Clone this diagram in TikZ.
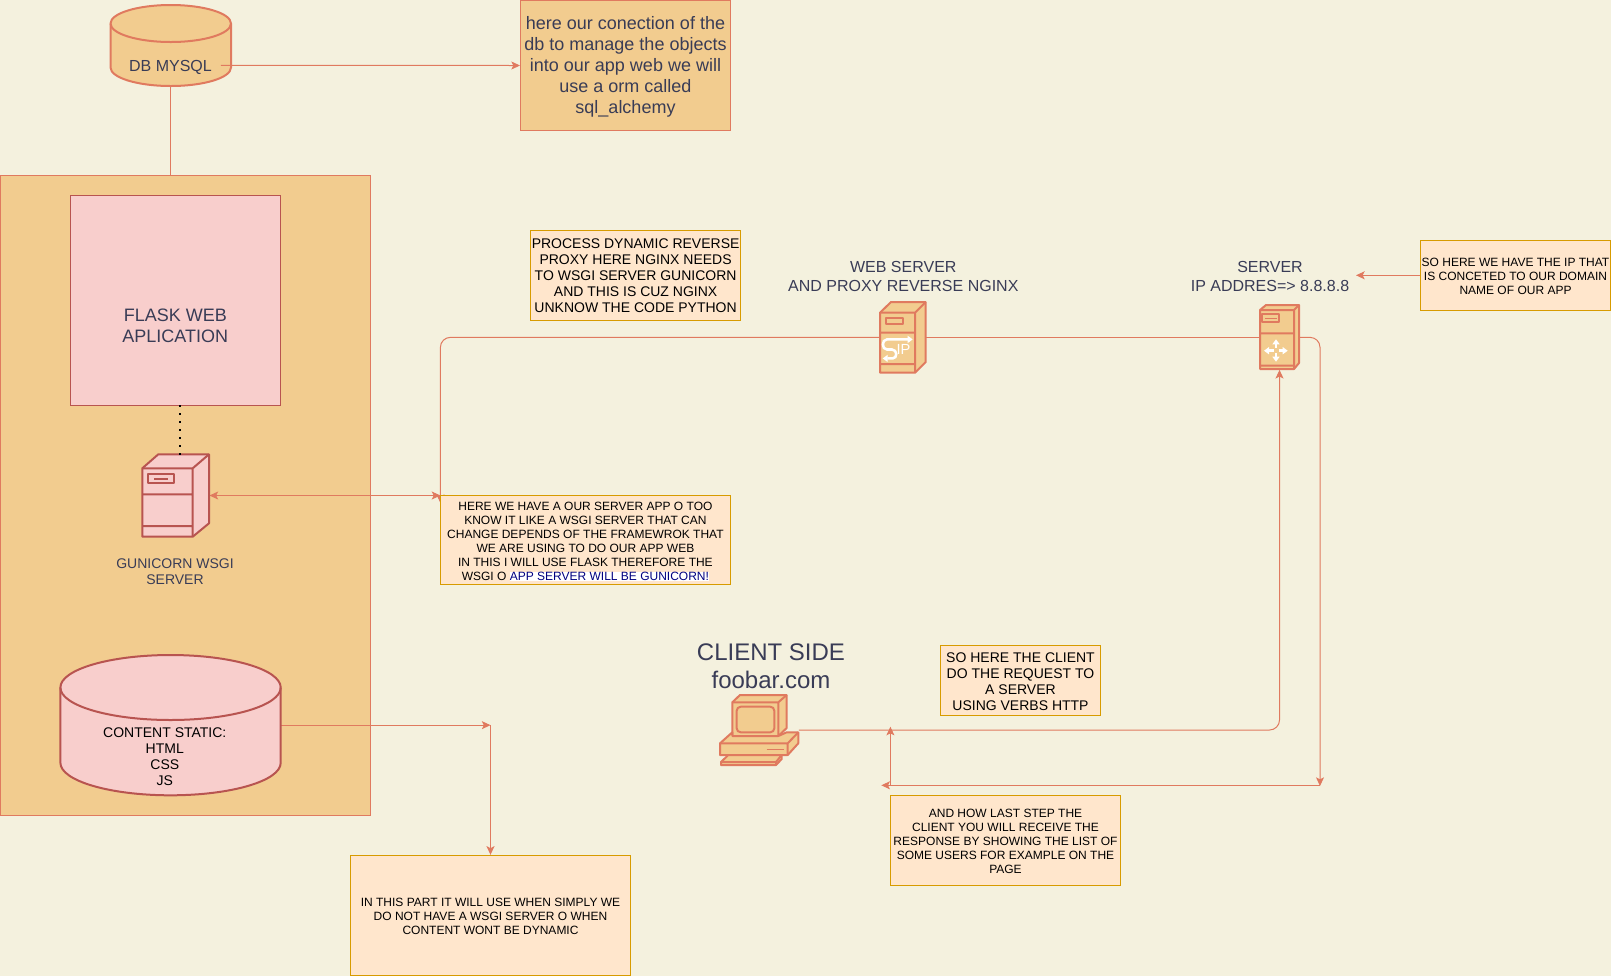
\documentclass[tikz,border=0pt]{standalone}
\usepackage{fontspec}
\setmainfont{Liberation Sans}
\usetikzlibrary{arrows.meta}
\definecolor{paper}{HTML}{F4F1DE}
\definecolor{sand}{HTML}{F2CC8F}
\definecolor{coral}{HTML}{E07A5F}
\definecolor{slate}{HTML}{393C56}
\definecolor{rosefill}{HTML}{F8CECC}
\definecolor{roseline}{HTML}{B85450}
\definecolor{notefill}{HTML}{FFE6CC}
\definecolor{noteline}{HTML}{D79B00}
\definecolor{navytext}{HTML}{000080}
\setlength{\fboxsep}{0pt}
\newcommand{\noteup}[1][1.5pt]{\rule{0pt}{\dimexpr.74em+#1\relax}}
\tikzset{
  >={Stealth[length=6.5pt,width=6pt,inset=1.5pt]},
  boxsize/.style 2 args={minimum width=#1*.75pt, minimum height=#2*.75pt, inner sep=0pt, line width=.75pt},
  textsm/.style={font=\fontsize{9pt}{10.5pt}\selectfont, align=center},
  textmd/.style={font=\fontsize{10.5pt}{12pt}\selectfont, align=center},
  textlg/.style={font=\fontsize{12pt}{14.25pt}\selectfont, align=center},
  textxl/.style={font=\fontsize{13.5pt}{15.75pt}\selectfont, align=center},
  label/.style={text=slate, inner sep=0pt},
  sandbox/.style={draw=coral, fill=sand, text=slate},
  rosebox/.style={draw=roseline, fill=rosefill, text=slate},
  note/.style={draw=noteline, fill=notefill, text=black},
  link/.style={draw=coral, line width=.75pt},
  iconsand/.style={draw=coral, fill=sand, line width=1.5pt, line join=round},
  iconrose/.style={draw=roseline, fill=rosefill, line width=1.5pt, line join=round},
  iconwhite/.style={draw=white, line width=1.9pt, >={Stealth[length=3.75pt,width=5.25pt,inset=0pt]}}
}
\begin{document}
\begin{tikzpicture}[x=.75pt, y=-.75pt]
  \useasboundingbox (0,0) rectangle (1611,976);
  \fill[paper] (0,0) rectangle (1611,976);

  \node[sandbox, boxsize={370}{640}] (backend) at (185.5,495.5) {};
  \node[rosebox, boxsize={210}{210}] (flaskapp) at (175.3,300.3) {};
  \node[label, textxl] (flasktext) at (175.3,326) {FLASK WEB\\APLICATION};

  \node[boxsize={120.5}{81}] (dbmysql) at (170.75,45.5) {};
  \draw[iconsand] (110.5,23.5) -- (110.5,67.5) arc[x radius=60.25, y radius=18.5, start angle=180, end angle=0] -- (231,23.5)
    arc[x radius=60.25, y radius=18.5, start angle=0, end angle=-180] -- cycle;
  \draw[iconsand, fill=none] (110.5,23.5) arc[x radius=60.25, y radius=18.5, start angle=180, end angle=0];
  \node[label, textlg, minimum width=75pt] (dbtext) at (170.5,65.3) {\noteup[2.5pt]DB MYSQL};

  \node[sandbox, boxsize={210}{130}, textxl] (noteorm) at (625.5,65.5) {\noteup here our conection of the\\db to manage the objects\\into our app web we will\\use a orm called\\sql\_alchemy};
  \node[note, boxsize={210}{90}, textmd] (noteproxy) at (635.6,275.3) {PROCESS DYNAMIC REVERSE\\PROXY HERE NGINX NEEDS\\TO WSGI SERVER GUNICORN\\AND THIS IS CUZ NGINX\\UNKNOW THE CODE PYTHON};
  \node[note, boxsize={190}{70}, textsm] (noteip) at (1515.5,275.3) {\noteup SO HERE WE HAVE THE IP THAT\\IS CONCETED TO OUR DOMAIN\\NAME OF OUR APP};
  \node[note, boxsize={160}{70}, textmd] (noterequest) at (1020.5,680.3) {\noteup SO HERE THE CLIENT\\DO THE REQUEST TO\\A SERVER\\USING VERBS HTTP};
  \node[note, boxsize={230}{90}, textsm] (noteresponse) at (1005.5,840.5) {\noteup AND HOW LAST STEP THE\\CLIENT YOU WILL RECEIVE THE\\RESPONSE BY SHOWING THE LIST OF\\SOME USERS FOR EXAMPLE ON THE\\PAGE};
  \node[note, boxsize={280}{120}, textsm] (notestatic) at (490.5,915.3) {\noteup IN THIS PART IT WILL USE WHEN SIMPLY WE\\DO NOT HAVE A WSGI SERVER O WHEN\\CONTENT WONT BE DYNAMIC};

  \node[label, textlg] (websrvtext) at (903.3,276.5) {WEB SERVER\\AND PROXY REVERSE NGINX};
  \node[label, textlg] (servertext) at (1270,276.5) {SERVER\\IP ADDRES=> 8.8.8.8};
  \node[label, textmd] (gunitext) at (175,572) {GUNICORN WSGI\\SERVER};
  \node[label, font=\fontsize{18pt}{21pt}\selectfont, align=center] (clienttext) at (771,666) {CLIENT SIDE\\foobar.com};

  \node[boxsize={45.7}{70.7}] (sipserver) at (902.85,337.35) {};
  \node[boxsize={39}{64}] (server) at (1279.5,337.35) {};
  \node[boxsize={66.7}{82.4}] (gunicorn) at (175.65,495.5) {};
  \node[boxsize={78.3}{70}] (client) at (759.15,730) {};
  \node[boxsize={220.3}{140.3}] (static) at (170.55,725.15) {};
  \coordinate (wsgiarrow) at (440.4,503);
  \coordinate (wsgiend) at (440.4,495.5);
  \coordinate (staticbend) at (490.5,725.15);
  \coordinate (downend) at (1320,786);
  \coordinate (leftstart) at (1320,785.3);
  \coordinate (leftend) at (881.3,785.3);
  \coordinate (upstart) at (890.4,785.3);
  \coordinate (upend) at (890.4,726.7);
  \coordinate (iptip) at (1356,275.3);

  \draw[link, ->] (dbtext.east) -- (noteorm.west);
  \draw[link] (dbmysql.south) -- (dbmysql.south |- backend.north);
  \draw[link, ->, rounded corners=7.5pt] (sipserver.west) -| (wsgiarrow);
  \draw[link] (sipserver.east) -- (server.west);
  \draw[link, ->, rounded corners=7.5pt] (server.east) -| (downend);
  \draw[link, ->] (leftstart) -- (leftend);
  \draw[link, ->] (upstart) -- (upend);
  \draw[link, ->, rounded corners=7.5pt] (client.east) -| (server.south);
  \draw[link, ->] (noteip.west) -- (iptip);
  \draw[link, <->] (gunicorn.east) -- (wsgiend);
  \draw[link, ->] (static.east) -- (staticbend);
  \draw[link, ->] (staticbend) -- (notestatic.north);

  \draw[iconrose] (60.4,687.5) -- (60.4,762.8) arc[x radius=110.15, y radius=32.5, start angle=180, end angle=0] -- (280.7,687.5)
    arc[x radius=110.15, y radius=32.5, start angle=0, end angle=-180] -- cycle;
  \draw[iconrose, fill=none] (60.4,687.5) arc[x radius=110.15, y radius=32.5, start angle=180, end angle=0];
  \node[inner sep=0pt, textmd] (statictext) at (164.8,757) {CONTENT STATIC:\\HTML\\CSS\\JS};

  \draw[iconrose] (142.3,468.3) -- (158.3,454.3) -- (209,454.3) -- (209,523.3) -- (192.7,536.7) -- (142.3,536.7) -- cycle;
  \draw[iconrose, fill=none] (142.3,468.3) -- (192.7,468.3) -- (209,454.3) (192.7,468.3) -- (192.7,536.7)
    (142.3,494.3) -- (192.7,494.3) (142.3,526) -- (192.7,526);
  \draw[iconrose] (148.3,474.3) rectangle (174.3,483);
  \draw[iconrose] (154.3,478.7) -- (168.3,478.7);
  \draw[line width=1.5pt, dash pattern=on 1.5pt off 4.5pt] (180.3,405.3) -- (180.3,455);

  \draw[iconsand] (880,312.7) -- (891,302) -- (925.7,302) -- (925.7,362) -- (915,372.7) -- (880,372.7) -- cycle;
  \draw[iconsand, fill=none] (880,312.7) -- (915,312.7) -- (925.7,302) (915,312.7) -- (915,372.7)
    (880,332.7) -- (915,332.7) (880,364) -- (915,364);
  \draw[iconsand] (886,318) rectangle (903.3,324);
  \draw[iconwhite, <->] (882.7,358.4) -- (892.7,358.4) .. controls (897.5,358.4) and (897.5,349.5) .. (892,349.5) -- (887,349.5)
    .. controls (881.5,349.5) and (881.5,339.4) .. (887,339.4) -- (912.7,339.4);
  \node[text=white, inner sep=0pt, font=\fontsize{11pt}{12pt}\selectfont] (siptext) at (903.5,349.7) {IP};

  \draw[iconsand] (1260,310) -- (1266,305) -- (1299,305) -- (1299,363) -- (1294,369) -- (1260,369) -- cycle;
  \draw[iconsand, fill=none] (1260,310) -- (1294,310) -- (1299,305) (1294,310) -- (1294,369)
    (1260,333.3) -- (1294,333.3) (1260,365.7) -- (1294,365.7);
  \draw[iconsand] (1262,314.3) rectangle (1279.3,321.7);
  \draw[iconsand, line width=.75pt] (1265,318) -- (1277,318);
  \draw[iconwhite, ->] (1276,348.2) -- (1276,339.3);
  \draw[iconwhite, ->] (1276,353.2) -- (1276,361.7);
  \draw[iconwhite, ->] (1273.5,350.7) -- (1264,350.7);
  \draw[iconwhite, ->] (1278.5,350.7) -- (1287.7,350.7);

  \draw[iconsand] (732.3,702.3) -- (740,695) -- (786.7,695) -- (786.7,728) -- (778.3,736) -- (732.3,736) -- cycle;
  \draw[iconsand, fill=none] (732.3,702.3) -- (778.3,702.3) -- (786.7,695) (778.3,702.3) -- (778.3,736);
  \draw[iconsand, rounded corners=3pt] (736.7,706.7) rectangle (774.3,732.3);
  \draw[iconsand] (720,743.3) -- (732.3,732.3) -- (732.3,736) -- (778.3,736) -- (786.7,732.3) -- (798.3,732.3) -- (798.3,743.3) -- (787.7,755) -- (720,755) -- cycle;
  \draw[iconsand, fill=none] (720,743.3) -- (787.7,743.3) -- (798.3,732.3) (787.7,743.3) -- (787.7,755);
  \draw[iconsand, line width=.75pt] (766.7,749.3) -- (784,749.3);
  \draw[iconsand] (728.3,755) -- (781.7,755) -- (781.7,759) -- (776,765) -- (721,765) -- (721,762) -- cycle;
  \draw[iconsand, fill=none] (721,762) -- (776,762) -- (781.7,755) (776,762) -- (776,765);

  \node[note, boxsize={290}{89}, textsm] (noteapp) at (585.4,539.8) {\noteup[2.2pt]HERE WE HAVE A OUR SERVER APP O TOO\\KNOW IT LIKE A WSGI SERVER THAT CAN\\CHANGE DEPENDS OF THE FRAMEWROK THAT\\WE ARE USING TO DO OUR APP WEB\\IN THIS I WILL USE FLASK THEREFORE THE\\WSGI O \colorbox{white}{\textcolor{navytext}{APP SERVER WILL BE GUNICORN!}}};
\end{tikzpicture}
\end{document}
